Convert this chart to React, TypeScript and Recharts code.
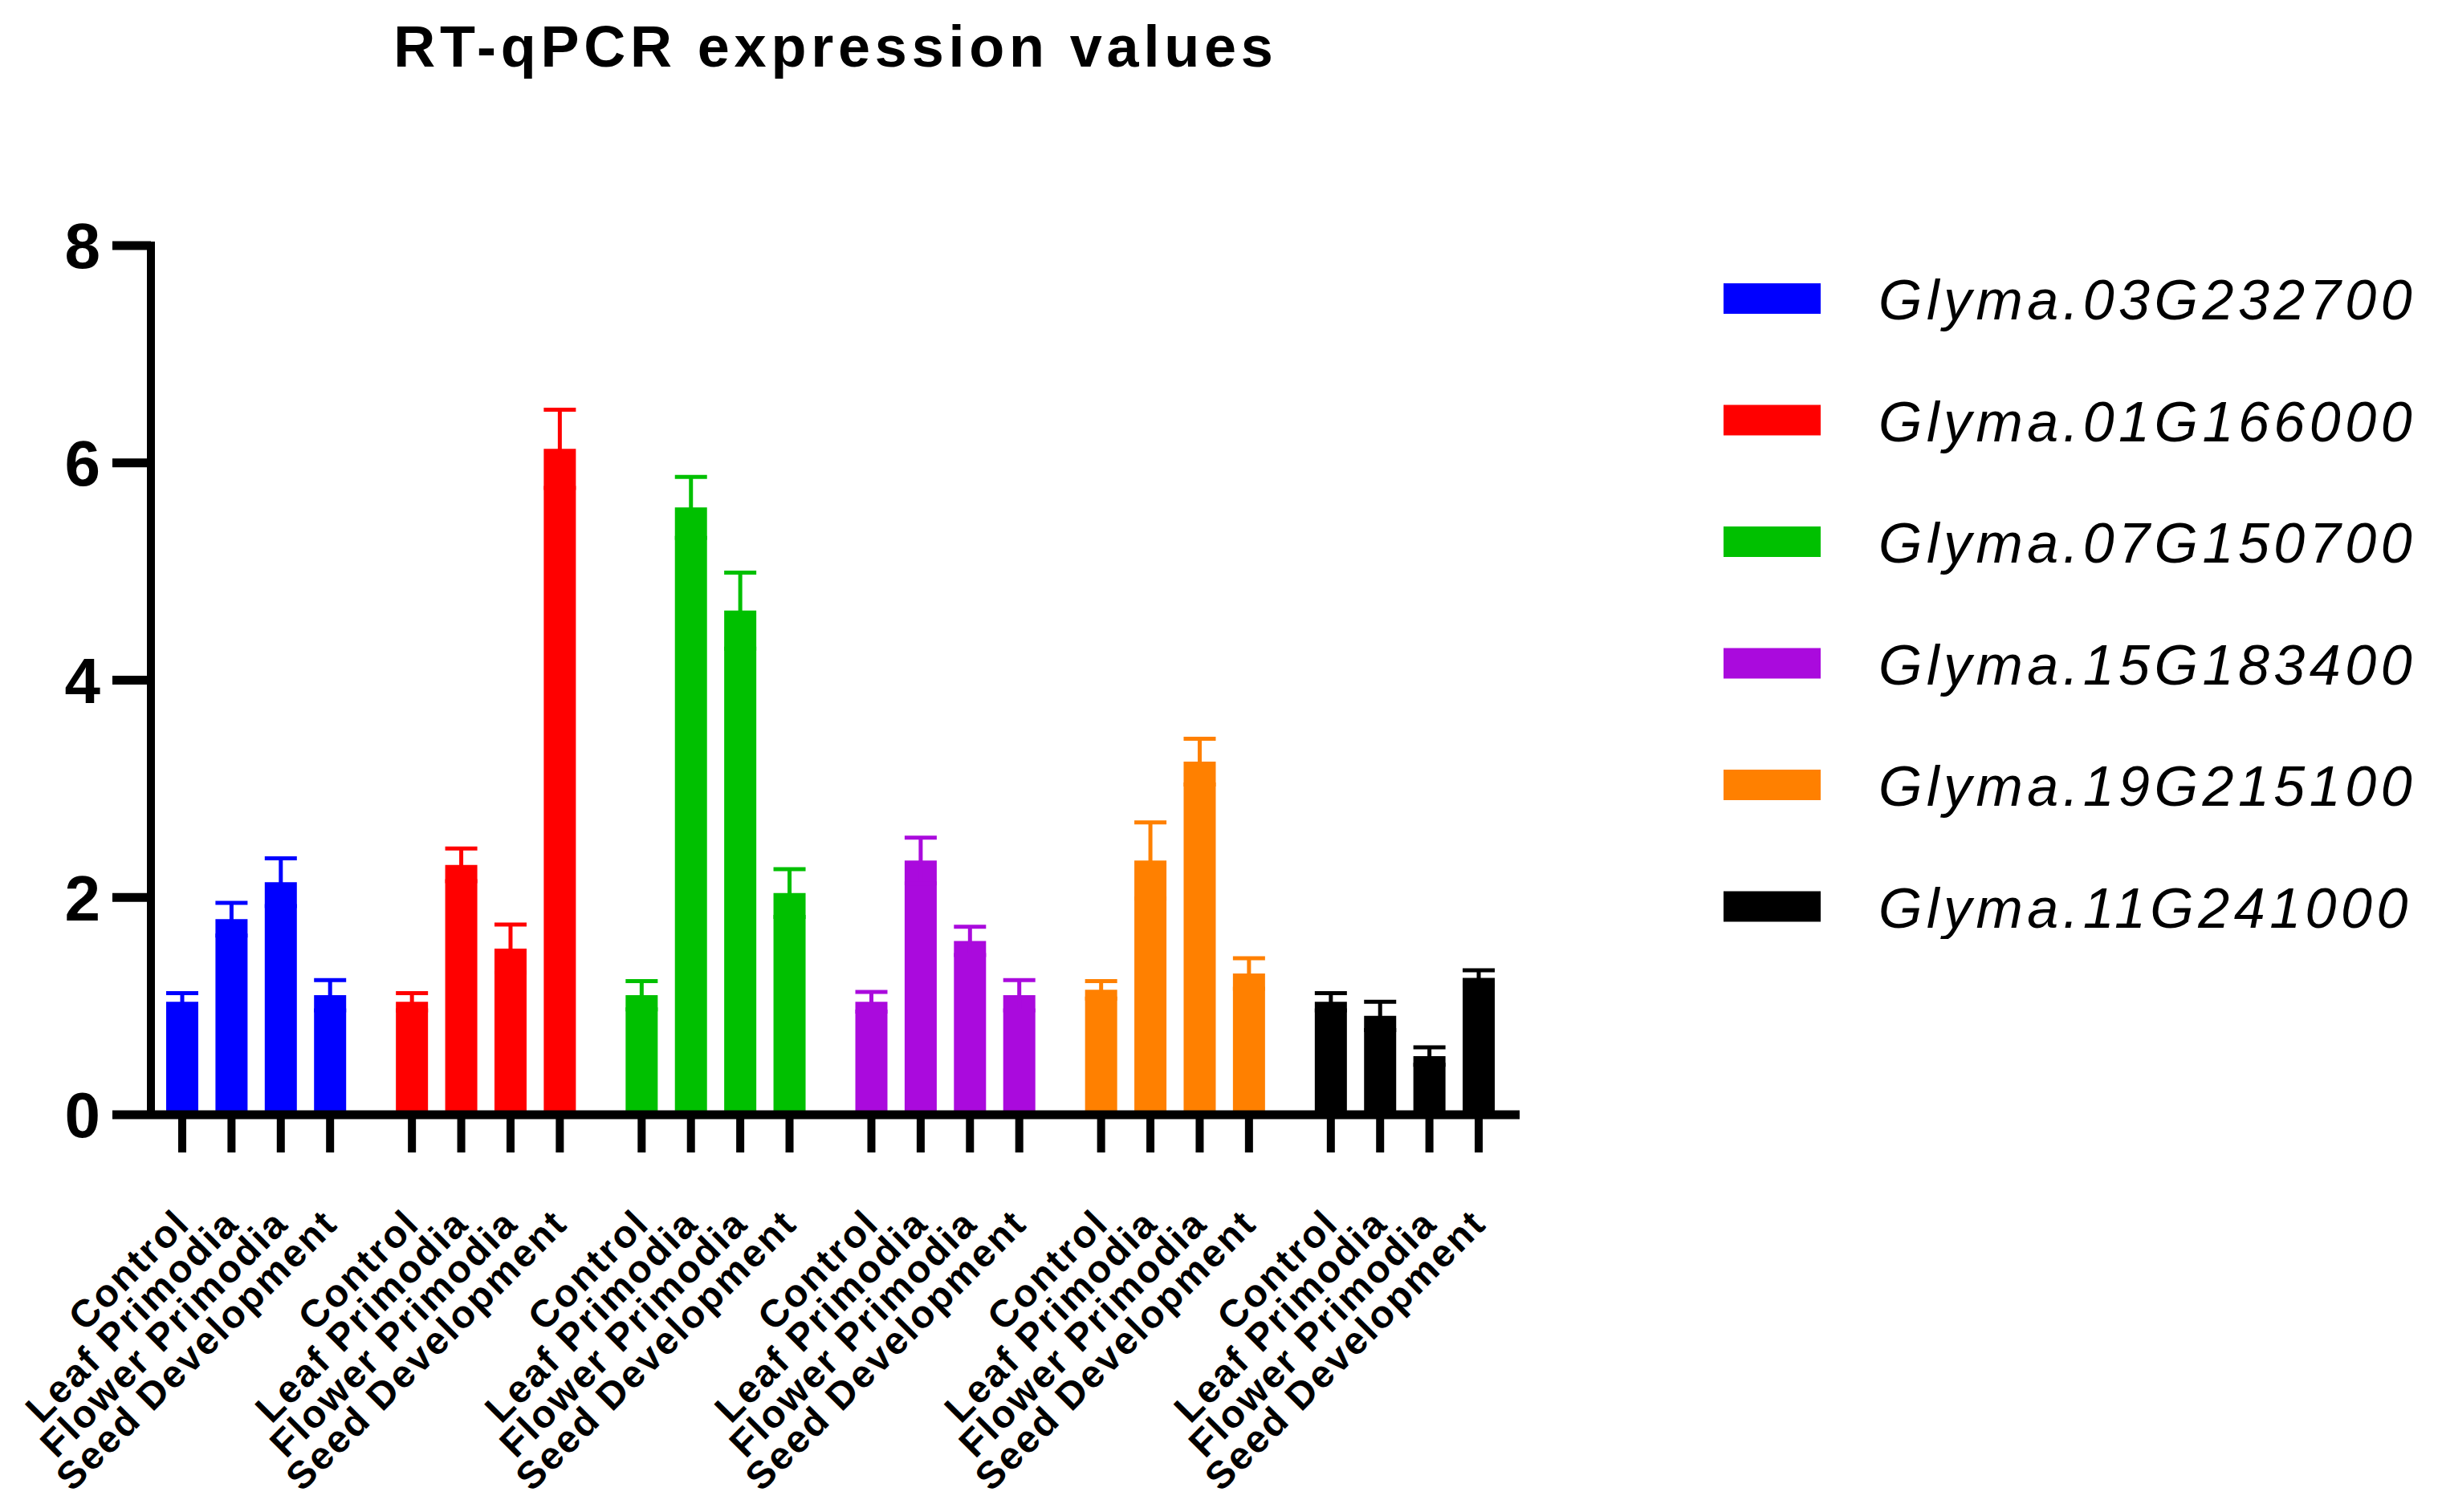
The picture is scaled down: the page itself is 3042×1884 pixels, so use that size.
import React from 'react';
import { BarChart, Bar, XAxis, YAxis, ErrorBar, Legend } from 'recharts';

// ---- data ----
const genes = [
  'Glyma.03G232700',
  'Glyma.01G166000',
  'Glyma.07G150700',
  'Glyma.15G183400',
  'Glyma.19G215100',
  'Glyma.11G241000',
];
const geneColors = ['#0000FF', '#FF0000', '#00C000', '#AA0ADD', '#FF8000', '#000000'];
const conditions = ['Control', 'Leaf Primodia', 'Flower Primodia', 'Seed Development'];
const yTicks = [0, 2, 4, 6, 8];

const means03G232700 = [1.04, 1.8, 2.14, 1.1];
const errs03G232700 = [0.08, 0.15, 0.22, 0.14];
const means01G166000 = [1.04, 2.3, 1.53, 6.13];
const errs01G166000 = [0.08, 0.15, 0.22, 0.36];
const means07G150700 = [1.1, 5.59, 4.64, 2.04];
const errs07G150700 = [0.13, 0.28, 0.35, 0.22];
const means15G183400 = [1.04, 2.34, 1.6, 1.1];
const errs15G183400 = [0.09, 0.21, 0.13, 0.14];
const means19G215100 = [1.15, 2.34, 3.25, 1.3];
const errs19G215100 = [0.08, 0.35, 0.21, 0.14];
const means11G241000 = [1.04, 0.91, 0.54, 1.26];
const errs11G241000 = [0.08, 0.13, 0.08, 0.07];

const geneMeans = [means03G232700, means01G166000, means07G150700, means15G183400, means19G215100, means11G241000];
const geneErrs = [errs03G232700, errs01G166000, errs07G150700, errs15G183400, errs19G215100, errs11G241000];

// one row per gene; each gene only fills its own keys
const data = genes.map((g, gi) => {
  const row: Record<string, any> = { gene: g };
  conditions.forEach((_, ci) => {
    row[`v${gi}_${ci}`] = geneMeans[gi][ci];
    row[`e${gi}_${ci}`] = geneErrs[gi][ci];
  });
  return row;
});

// ---- layout / style ----
const W = 3042;
const H = 1884;
const BAR_SIZE = 40;
const BAR_GAP = 21.4;
const BAR_PITCH = BAR_SIZE + BAR_GAP;
const LEGEND_W = 900;
const FONT = '"Liberation Sans", Arial, sans-serif';

const ConditionTicks = (props: any) => {
  const { x, y } = props;
  return (
    <g>
      {conditions.map((c, ci) => {
        const cx = x + (ci - 1.5) * BAR_PITCH;
        const tx = cx + 12;
        const ty = y + 138;
        return (
          <g key={c}>
            <line x1={cx} x2={cx} y1={y} y2={y + 47} stroke="#000" strokeWidth={10} />
            <text
              x={tx}
              y={ty}
              transform={`rotate(-45 ${tx} ${ty})`}
              textAnchor="end"
              fontFamily={FONT}
              fontWeight="bold"
              fontSize={48}
              letterSpacing={2.6}
              fill="#000"
            >
              {c}
            </text>
          </g>
        );
      })}
    </g>
  );
};

const GeneLegend = () => (
  <svg width={LEGEND_W} height={850}>
    {genes.map((g, gi) => {
      const cy = 52 + gi * 151.5;
      return (
        <g key={g}>
          <rect x={17} y={cy - 19} width={121} height={38} fill={geneColors[gi]} />
          <text
            x={210}
            y={cy + 26}
            fontFamily={FONT}
            fontStyle="italic"
            fontSize={70}
            letterSpacing={5.5}
            fill="#000"
          >
            {g}
          </text>
        </g>
      );
    })}
  </svg>
);

export default function App() {
  return (
    <div style={{ position: 'absolute', left: 0, top: 0, width: W, height: H, background: '#fff' }}>
      <svg width={W} height={150} style={{ position: 'absolute', left: 0, top: 0 }}>
        <text
          x={1041}
          y={83}
          textAnchor="middle"
          fontFamily={FONT}
          fontWeight="bold"
          fontSize={72}
          letterSpacing={5.8}
          fill="#000"
        >
          RT-qPCR expression values
        </text>
      </svg>
      <BarChart
        width={W}
        height={H}
        data={data}
        margin={{ top: 306, right: W - 1893 - LEGEND_W, bottom: 0, left: 0 }}
        barGap={BAR_GAP}
      >
        <XAxis
          dataKey="gene"
          interval={0}
          padding={{ left: -12, right: 0 }}
          height={H - 1389}
          axisLine={{ stroke: '#000', strokeWidth: 11 }}
          tickLine={false}
          tickSize={0}
          tickMargin={0}
          tick={<ConditionTicks />}
        />
        <YAxis
          domain={[0, 8]}
          ticks={yTicks}
          width={188}
          tickSize={48}
          tickMargin={15}
          axisLine={{ stroke: '#000', strokeWidth: 10, strokeLinecap: 'square' }}
          tickLine={{ stroke: '#000', strokeWidth: 11 }}
          tick={{ fill: '#000', fontSize: 80, fontWeight: 'bold', fontFamily: FONT }}
        />
        <Legend
          layout="vertical"
          align="right"
          verticalAlign="top"
          width={LEGEND_W}
          height={850}
          wrapperStyle={{ left: 2130, top: 320, right: 'auto' }}
          content={<GeneLegend />}
        />
        {conditions.map((_, ci) =>
          genes.map((g, gi) => (
            <Bar
              key={`b${gi}_${ci}`}
              dataKey={`v${gi}_${ci}`}
              stackId={`s${ci}`}
              fill={geneColors[gi]}
              barSize={BAR_SIZE}
              isAnimationActive={false}
              legendType="none"
            >
              <ErrorBar
                dataKey={`e${gi}_${ci}`}
                width={20}
                strokeWidth={5}
                stroke={geneColors[gi]}
                direction="y"
                isAnimationActive={false}
              />
            </Bar>
          ))
        )}
      </BarChart>
    </div>
  );
}
